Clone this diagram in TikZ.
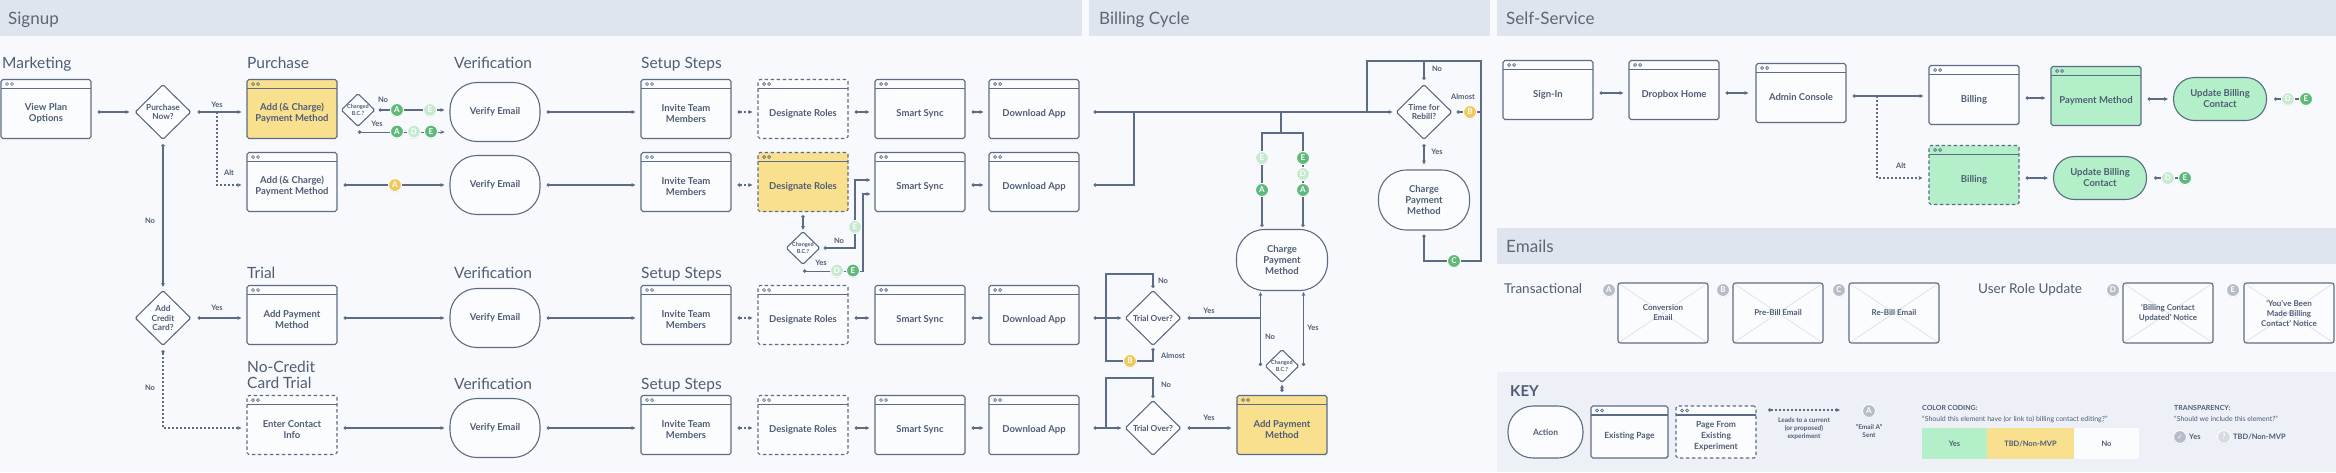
\documentclass[tikz,border=0pt]{standalone}
\usepackage{fontspec}
\setmainfont{Lato}
\newfontfamily\symfont{DejaVu Sans}
\usetikzlibrary{arrows.meta,shapes.geometric,shadows,calc}
\definecolor{bgc}{HTML}{F7F9FC}
\definecolor{hdr}{HTML}{DEE5EE}
\definecolor{hdrtext}{HTML}{5E6672}
\definecolor{linec}{HTML}{5D6C85}
\definecolor{textc}{HTML}{4F5D74}
\definecolor{yel}{HTML}{F9E08F}
\definecolor{grn}{HTML}{B3EFC8}
\definecolor{bgreen}{HTML}{5FB97A}
\definecolor{bfade}{HTML}{C6E9CF}
\definecolor{byel}{HTML}{F1C85C}
\definecolor{bgrey}{HTML}{B6BDC8}
\definecolor{bgreyf}{HTML}{D6DAE1}
\definecolor{keybg}{HTML}{EDF0F7}
\definecolor{pagefill}{HTML}{FBFCFE}
\definecolor{envl}{HTML}{DFE4EC}
\pgfdeclarelayer{back}
\pgfdeclarelayer{lines}
\pgfsetlayers{back,lines,main}
\newcommand\labfont{\fontsize{9.5}{11}\selectfont\bfseries}
\tikzset{
  every node/.style={text=textc},
  sect/.style={anchor=base west, inner sep=0pt, font=\fontsize{17}{17}\selectfont, text=hdrtext},
  sub/.style={anchor=base west, inner sep=0pt, font=\fontsize{15.5}{17}\selectfont, text=textc},
  sub2/.style={anchor=base west, inner sep=0pt, font=\fontsize{13.5}{15}\selectfont, text=textc},
  lab/.style={inner sep=0pt, font=\fontsize{7.5}{8}\selectfont\bfseries},
  dbox/.style={dash pattern=on 3.5pt off 2.5pt},
  dsh/.style={dash pattern=on 2pt off 2pt},
  pagebox/.style={draw=linec, line width=1.1pt, rounded corners=1.8pt, fill=pagefill,
    minimum width=90pt, minimum height=59pt, inner sep=0pt,
    path picture={
      \draw[solid, draw=linec, line width=1.1pt]
        ([yshift=-9pt]path picture bounding box.north west) -- ([yshift=-9pt]path picture bounding box.north east);
      \draw[solid, draw=linec, line width=0.7pt]
        ([xshift=6pt,yshift=-4.5pt]path picture bounding box.north west) circle[radius=1.5pt]
        ([xshift=11pt,yshift=-4.5pt]path picture bounding box.north west) circle[radius=1.5pt];
    }},
  pagetext/.style={inner sep=0pt, align=center, font=\labfont},
  action/.style={draw=linec, line width=1.1pt, rectangle, rounded corners=27pt, fill=pagefill,
    minimum width=90pt, minimum height=59pt, inner sep=0pt, align=center, font=\labfont},
  decision/.style={diamond, draw=linec, line width=1.1pt, fill=pagefill, minimum width=56pt,
    minimum height=55pt, inner sep=0pt, rounded corners=1.5pt},
  sdec/.style={decision, minimum width=34pt, minimum height=33pt},
  dtext/.style={inner sep=0pt, align=center, font=\fontsize{8.3}{9.8}\selectfont\bfseries},
  stext/.style={inner sep=0pt, align=center, font=\fontsize{5.5}{6.5}\selectfont\bfseries},
  badge/.style={circle, inner sep=0pt, minimum size=13pt, draw=white, line width=0.9pt,
    font=\fontsize{8}{8}\selectfont\bfseries, text=white,
    drop shadow={shadow xshift=0pt, shadow yshift=-0.8pt, opacity=0.22}},
  badgeG/.style={badge, fill=bgreen},
  badgeF/.style={badge, fill=bfade},
  badgeY/.style={badge, fill=byel},
  badgeE/.style={badge, fill=bgrey},
  email/.style={draw=linec, line width=1.1pt, rounded corners=2.5pt, fill=pagefill,
    minimum width=90pt, minimum height=60pt, inner sep=0pt, align=center,
    font=\fontsize{8}{10}\selectfont\bfseries,
    path picture={\draw[envl, line width=0.8pt]
      (path picture bounding box.north west) -- (path picture bounding box.south east)
      (path picture bounding box.north east) -- (path picture bounding box.south west);}},
  ktxt/.style={inner sep=0pt, align=center, font=\fontsize{6.5}{8}\selectfont\bfseries},
  khead/.style={anchor=base west, inner sep=0pt, font=\fontsize{7}{8}\selectfont\bfseries},
  ksub/.style={anchor=base west, inner sep=0pt, font=\fontsize{7}{8}\selectfont},
  swatch/.style={rectangle, inner sep=0pt, minimum height=31pt, font=\fontsize{7.5}{8}\selectfont\bfseries},
  lk/.style={draw=linec, line width=1.1pt},
  st/.style={{Circle[open,length=3.4pt,width=3.4pt]}-},
  ar/.style={-{Stealth[length=4pt,width=3.8pt]}},
  flow/.style={lk, {Circle[open,length=3.4pt,width=3.4pt]}-{Stealth[length=4pt,width=3.8pt]},
    shorten <=6pt, shorten >=5pt},
  dflow/.style={flow, dsh},
}
\newcommand\mkpage[5][]{%
  \node[pagebox,#1] (#2) at (#3,#4-3) {};
  \node[pagetext] (#2t) at ([yshift=-4.5pt]#2.center) {#5};
  \coordinate (#2E) at ([yshift=-3pt]#2.east);
  \coordinate (#2W) at ([yshift=-3pt]#2.west);
}
\begin{document}
\begin{tikzpicture}[x=1pt,y=-1pt]
\useasboundingbox (0,0) rectangle (2336,472);
\begin{pgfonlayer}{back}
\fill[bgc] (0,0) rectangle (2336,472);
\fill[hdr] (0,0) rectangle (1082,36);
\fill[hdr] (1089,0) rectangle (1490,36);
\fill[hdr] (1497,0) rectangle (2336,36);
\fill[hdr] (1497,228) rectangle (2336,264);
\fill[keybg] (1497,372) rectangle (2336,472);
\end{pgfonlayer}

% ---------- headers ----------
\node[sect] (hs) at (8,24) {Signup};
\node[sect] (hb) at (1099,24) {Billing Cycle};
\node[sect] (hss) at (1506,24) {Self-Service};
\node[sect] (he) at (1506,252) {Emails};

\node[sub] (sMk) at (2,68) {Marketing};
\node[sub] (sPu) at (247,68) {Purchase};
\node[sub] (sV1) at (454,68) {Verification};
\node[sub] (sS1) at (641,68) {Setup Steps};
\node[sub] (sTr) at (247,278) {Trial};
\node[sub] (sV3) at (454,278) {Verification};
\node[sub] (sS3) at (641,278) {Setup Steps};
\node[sub] (sNc1) at (247,372) {No-Credit};
\node[sub] (sNc2) at (247,388) {Card Trial};
\node[sub] (sV4) at (454,389) {Verification};
\node[sub] (sS4) at (641,389) {Setup Steps};

% ---------- row 1 ----------
\mkpage{vp}{46}{112}{View Plan\\Options}
\node[decision] (pnow) at (163,112) {};
\node[dtext] (pnowt) at (pnow) {Purchase\\Now?};
\mkpage[fill=yel]{ac1}{292}{112}{Add (\& Charge)\\Payment Method}
\node[sdec] (cbc1) at (358,110) {};
\node[stext] (cbc1t) at (cbc1) {Changed\\B.C.?};
\node[action] (ve1) at (495,112) {Verify Email};
\mkpage{inv1}{686}{112}{Invite Team\\Members}
\mkpage[dbox]{des1}{803}{112}{Designate Roles}
\mkpage{ss1}{920}{112}{Smart Sync}
\mkpage{da1}{1034}{112}{Download App}

% ---------- row 2 ----------
\mkpage{ac2}{292}{185}{Add (\& Charge)\\Payment Method}
\node[action] (ve2) at (495,185) {Verify Email};
\mkpage{inv2}{686}{185}{Invite Team\\Members}
\mkpage[fill=yel,dbox]{des2}{803}{185}{Designate Roles}
\mkpage{ss2}{920}{185}{Smart Sync}
\mkpage{da2}{1034}{185}{Download App}
\node[sdec] (cbc2) at (803,248) {};
\node[stext] (cbc2t) at (cbc2) {Changed\\B.C.?};

% ---------- row 3 ----------
\node[decision] (acc) at (163,318) {};
\node[dtext] (acct) at (acc) {Add\\Credit\\Card?};
\mkpage{apm}{292}{318}{Add Payment\\Method}
\node[action] (ve3) at (495,318) {Verify Email};
\mkpage{inv3}{686}{318}{Invite Team\\Members}
\mkpage[dbox]{des3}{803}{318}{Designate Roles}
\mkpage{ss3}{920}{318}{Smart Sync}
\mkpage{da3}{1034}{318}{Download App}

% ---------- row 4 ----------
\mkpage[dbox]{eci}{292}{428}{Enter Contact\\Info}
\node[action] (ve4) at (495,428) {Verify Email};
\mkpage{inv4}{686}{428}{Invite Team\\Members}
\mkpage[dbox]{des4}{803}{428}{Designate Roles}
\mkpage{ss4}{920}{428}{Smart Sync}
\mkpage{da4}{1034}{428}{Download App}

% ---------- billing cycle ----------
\node[decision] (trb) at (1424,112) {};
\node[dtext] (trbt) at (trb) {Time for\\Rebill?};
\node[action, minimum width=91pt, minimum height=60pt, rounded corners=28pt] (cpm2) at (1424,200) {Charge\\Payment\\Method};
\node[action, minimum width=91pt, minimum height=61pt, rounded corners=28pt] (cpm) at (1282,260) {Charge\\Payment\\Method};
\node[decision] (tov1) at (1153,318) {};
\node[dtext] (tov1t) at (tov1) {Trial Over?};
\node[decision] (tov2) at (1153,428) {};
\node[dtext] (tov2t) at (tov2) {Trial Over?};
\node[sdec] (cbc3) at (1282,366) {};
\node[stext] (cbc3t) at (cbc3) {Changed\\B.C.?};
\mkpage[fill=yel]{apm2}{1282}{428}{Add Payment\\Method}

% ---------- self-service ----------
\mkpage{si}{1548}{93}{Sign-In}
\mkpage{dh}{1674}{93}{Dropbox Home}
\mkpage{adm}{1801}{96}{Admin Console}
\mkpage{bil1}{1974}{98}{Billing}
\mkpage[fill=grn]{pmg}{2096}{99}{Payment Method}
\node[action, fill=grn, minimum width=93pt, minimum height=43pt, rounded corners=21pt] (ubc1) at (2220,99) {Update Billing\\Contact};
\mkpage[fill=grn,dbox]{bil2}{1974}{178}{Billing}
\node[action, fill=grn, minimum width=93pt, minimum height=43pt, rounded corners=21pt] (ubc2) at (2100,178) {Update Billing\\Contact};

% ---------- emails ----------
\node[sub2] (tTr) at (1504,293) {Transactional};
\node[sub2] (tUr) at (1978,293) {User Role Update};
\node[email] (mA) at (1663,313) {Conversion\\Email};
\node[email] (mB) at (1778,313) {Pre-Bill Email};
\node[email] (mC) at (1894,313) {Re-Bill Email};
\node[email] (mD) at (2168,313) {‘Billing Contact\\Updated’ Notice};
\node[email] (mE) at (2289,313) {‘You’ve Been\\Made Billing\\Contact’ Notice};
\node[badgeE] (eA) at (1609,290) {A};
\node[badgeE] (eB) at (1723,290) {B};
\node[badgeE] (eC) at (1839,290) {C};
\node[badgeE] (eD) at (2113,290) {D};
\node[badgeE] (eE) at (2233,290) {E};

% ---------- key ----------
\node[anchor=base west, inner sep=0pt, font=\fontsize{15}{15}\selectfont\bfseries] (kt) at (1510,396) {KEY};
\node[action, minimum width=75pt, minimum height=52pt, rounded corners=25pt, font=\fontsize{8.5}{10}\selectfont\bfseries] (ka) at (1545.5,432) {Action};
\begin{scope}[pagetext/.append style={font=\fontsize{8.5}{11}\selectfont\bfseries}]
\mkpage[minimum width=77pt, minimum height=52pt]{kp}{1629.5}{435}{Existing Page}
\mkpage[minimum width=80pt, minimum height=52pt, dbox]{kx}{1716}{435}{Page From\\Existing\\Experiment}
\end{scope}
\coordinate (kl1) at (1768,410);
\coordinate (kl2) at (1840,410);
\node[ktxt] (kltxt) at (1804,429) {Leads to a current\\(or proposed)\\experiment};
\node[badgeE] (kA) at (1869,411) {A};
\node[ktxt] (kAtxt) at (1869,431) {“Email A”\\Sent};
\node[khead] (kcc) at (1922,410) {COLOR CODING:};
\node[ksub] (kccs) at (1922,421) {“Should this element have (or link to) billing contact editing?”};
\node[swatch, fill=grn, minimum width=65pt] (swY) at (1954.5,443.5) {Yes};
\node[swatch, fill=yel, minimum width=87pt] (swT) at (2030.5,443.5) {TBD/Non-MVP};
\node[swatch, fill=pagefill, minimum width=65pt] (swN) at (2106.5,443.5) {No};
\node[khead] (ktr) at (2174,410) {TRANSPARENCY:};
\node[ksub] (ktrs) at (2174,421) {“Should we include this element?”};
\node[badge, fill=bgrey, font=\fontsize{7}{7}\selectfont\symfont] (kck) at (2180,437) {✓};
\node[anchor=west, inner sep=0pt, font=\fontsize{7.5}{8}\selectfont\bfseries] (kcky) at (2189,437) {Yes};
\node[badge, fill=bgreyf] (kq) at (2224,437) {?};
\node[anchor=west, inner sep=0pt, font=\fontsize{7.5}{8}\selectfont\bfseries] (kqt) at (2233,437) {TBD/Non-MVP};

% ---------- badges on connectors ----------
\node[badgeG] (b1a) at (397,110) {A};
\node[badgeF] (b1e) at (430,110) {E};
\node[badgeG] (b2a) at (397,131.5) {A};
\node[badgeF] (b2d) at (414,131.5) {D};
\node[badgeG] (b2e) at (431,131.5) {E};
\node[badgeY] (b3a) at (395,185) {A};
\node[badgeF] (b4e) at (855,227) {E};
\node[badgeF] (b5d) at (837,270.5) {D};
\node[badgeG] (b5e) at (853,270.5) {E};
\node[badgeF] (b6e) at (1262,158) {E};
\node[badgeG] (b6a) at (1262,190) {A};
\node[badgeG] (b7e) at (1303,158) {E};
\node[badgeF] (b7d) at (1303,174) {D};
\node[badgeG] (b7a) at (1303,190) {A};
\node[badgeY] (b8b) at (1470,112) {B};
\node[badgeG] (b9c) at (1454,261) {C};
\node[badgeY] (b10b) at (1130,361) {B};
\node[badgeF] (u1d) at (2288,99) {D};
\node[badgeG] (u1e) at (2306,99) {E};
\node[badgeF] (u2d) at (2168,178) {D};
\node[badgeG] (u2e) at (2185,178) {E};

% ---------- connector labels ----------
\node[lab] (l1) at (217,105) {Yes};
\node[lab] (l2) at (229,173) {Alt};
\node[lab] (l3) at (150,221) {No};
\node[lab] (l4) at (383,100) {No};
\node[lab] (l5) at (377,124) {Yes};
\node[lab] (l6) at (217,308) {Yes};
\node[lab] (l7) at (150,388) {No};
\node[lab] (l8) at (839,241) {No};
\node[lab] (l9) at (821,263) {Yes};
\node[lab] (l10) at (1437,69) {No};
\node[lab] (l11) at (1463,97) {Almost};
\node[lab] (l12) at (1437,152) {Yes};
\node[lab] (l13) at (1163,281) {No};
\node[lab] (l14) at (1173,356) {Almost};
\node[lab] (l15) at (1209,311) {Yes};
\node[lab] (l16) at (1270,337) {No};
\node[lab] (l17) at (1313,328) {Yes};
\node[lab] (l18) at (1166,385) {No};
\node[lab] (l19) at (1209,418) {Yes};
\node[lab] (l20) at (1901,166) {Alt};

% ---------- connectors ----------
\begin{pgfonlayer}{lines}
% signup row 1
\draw[flow] (vpE) -- (pnow);
\draw[flow] (pnow) -- (pnow -| ac1W);
\coordinate (altc) at (217,112);
\draw[lk, dsh, ar, shorten >=5pt] (altc) |- (ac2W);
\draw[flow, shorten <=4pt, shorten >=3pt] (pnow) -- (acc);
\draw[flow, shorten <=3pt] (cbc1) -- (cbc1 -| ve1.west);
\coordinate (cy1) at ([yshift=-5pt]cbc1.south);
\draw[flow, shorten <=0pt] (cy1) -- (cy1 -| ve1.west);
\draw[flow] (ve1) -- (inv1W);
\draw[dflow] (inv1E) -- (des1W);
\draw[flow] (des1E) -- (ss1W);
\draw[flow] (ss1E) -- (da1W);
% row 2
\draw[flow] (ac2E) -- (ve2);
\draw[flow] (ve2) -- (inv2W);
\draw[dflow] (inv2E) -- (des2W);
\draw[flow] (ss2E) -- (da2W);
\draw[flow, shorten <=3pt, shorten >=1pt] (des2) -- (cbc2);
\coordinate (c2n) at (855,180);
\draw[flow, shorten <=3pt, shorten >=4pt] (cbc2) -| (c2n) -- (c2n -| ss2.west);
\coordinate (c2y) at ([yshift=-6pt]cbc2.south);
\coordinate (c2v) at (863,194);
\draw[flow, shorten <=0pt, shorten >=4pt] (c2y) -| (c2v) -- (c2v -| ss2.west);
% row 3
\draw[flow] (acc) -- (apmW);
\draw[dflow, shorten <=4pt] (acc.south) |- (eciW);
\draw[flow] (apmE) -- (ve3);
\draw[flow] (ve3) -- (inv3W);
\draw[dflow] (inv3E) -- (des3W);
\draw[flow] (des3E) -- (ss3W);
\draw[flow] (ss3E) -- (da3W);
% row 4
\draw[flow] (eciE) -- (ve4);
\draw[flow] (ve4) -- (inv4W);
\draw[dflow] (inv4E) -- (des4W);
\draw[flow] (des4E) -- (ss4W);
\draw[flow] (ss4E) -- (da4W);
% billing cycle
\draw[flow, shorten <=14pt, shorten >=3pt] (da1E) -- (da1E -| trb.west);
\coordinate (j1) at (1134,112);
\draw[lk, st, shorten <=14pt] (da2E) -| (j1);
\coordinate (br) at (1281,133);
\draw[lk] (br |- da1E) -- (br);
\draw[lk, st, shorten <=2pt] ([xshift=-20pt]cpm.north) |- (br);
\draw[lk, st, shorten <=2pt] ([xshift=21pt]cpm.north) |- (br);
\coordinate (tl) at (1367,61);
\coordinate (tr) at (1481,61);
\draw[lk, st, shorten <=4pt] (trb.north) -- (trb.north |- tl) -- (tl) -- (tl |- da1E);
\coordinate (cbot) at (1481,261);
\draw[lk, st, shorten <=4pt] (cpm2.south) |- (cbot) -- (tr) -- (trb.north |- tr);
\draw[lk, st, shorten <=4pt] (trb.east) -- (trb.east -| tr);
\draw[flow, shorten <=4pt, shorten >=5pt] (trb) -- (cpm2);
\draw[flow, shorten <=14pt, shorten >=3pt] (da3E) -- (tov1);
\coordinate (l1a) at (1106,274);
\coordinate (l1b) at (1106,361);
\draw[lk, st, shorten <=2pt] (tov1.north) |- (l1a) -- (l1a |- tov1.west);
\draw[lk, st, shorten <=2pt] (tov1.south) |- (l1b) -- (l1b |- tov1.west);
\coordinate (n3) at ([xshift=-4pt]cbc3.west);
\coordinate (y3) at ([xshift=4pt]cbc3.east);
\draw[lk, st, shorten <=6pt] (tov1.east) -- (tov1.east -| n3);
\draw[flow, shorten <=0pt, shorten >=1pt] (n3) -- (n3 |- cpm.south);
\draw[flow, shorten <=0pt, shorten >=1pt] (y3) -- (y3 |- cpm.south);
\draw[flow, shorten <=3pt, shorten >=1.5pt] (apm2) -- (cbc3);
\draw[flow, shorten <=14pt, shorten >=3pt] (da4E) -- (tov2);
\coordinate (l2a) at (1106,378);
\draw[lk, st, shorten <=2pt] (tov2.north) |- (l2a) -- (l2a |- tov2.west);
\draw[flow] (tov2) -- (apm2W);
% self-service
\draw[flow] (siE) -- (dhW);
\draw[flow, shorten >=7pt] (dhE) -- (dhE -| adm.west);
\draw[flow] (admE) -- (admE -| bil1.west);
\coordinate (alt2) at (1877,96);
\draw[lk, dsh, ar, shorten >=6pt] (alt2) |- (bil2W);
\draw[flow] (bil1E) -- (bil1E -| pmg.west);
\draw[flow] (pmgE) -- (pmgE -| ubc1.west);
\draw[lk, st, shorten <=7pt] (ubc1) -- (u1e);
\draw[flow] (bil2E) -- (bil2E -| ubc2.west);
\draw[lk, st, shorten <=7pt] (ubc2) -- (u2e);
% key
\draw[dflow, shorten <=0pt, shorten >=0pt] (kl1) -- (kl2);
\end{pgfonlayer}
\end{tikzpicture}
\end{document}
